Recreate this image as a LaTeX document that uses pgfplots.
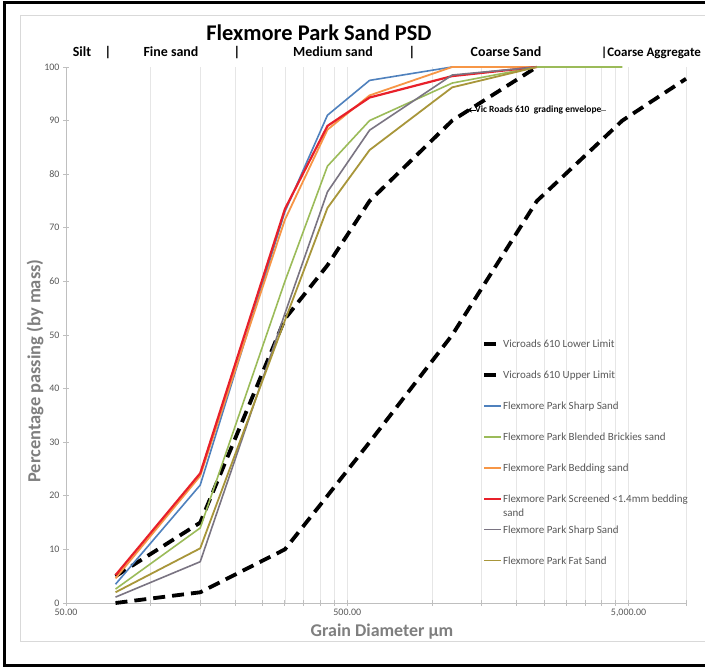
\documentclass[border=0pt]{standalone}
\usepackage{fontspec}
\setmainfont{Carlito}
\usepackage{pgfplots}
\pgfplotsset{compat=1.18}
\usetikzlibrary{arrows.meta}
\definecolor{cblue}{HTML}{4F81BD}
\definecolor{cgreen}{HTML}{9BBB59}
\definecolor{corange}{HTML}{F79646}
\definecolor{cred}{HTML}{E8202A}
\definecolor{cgray}{HTML}{7A7482}
\definecolor{cfat}{HTML}{A8963A}
\definecolor{axgray}{HTML}{BFBFBF}
\definecolor{gridgray}{HTML}{E6E6E6}
\definecolor{labgray}{HTML}{595959}
\definecolor{titgray}{HTML}{7F7F7F}
\begin{document}
\begin{tikzpicture}[x=1bp,y=1bp]
\useasboundingbox (0,0) rectangle (705,668);
\fill[white] (0,0) rectangle (705,668);
\draw[gray!30, line width=0.8bp] (705,27) -- (20,27) -- (20,653) -- (705,653);
\draw[black, line width=3bp] (705,2.5) -- (4.5,2.5) -- (4.5,665.5) -- (705,665.5);
\begin{axis}[
  at={(66bp,65bp)}, anchor=south west, scale only axis,
  width=620bp, height=536bp,
  xmode=log, xmin=50, xmax=8000, ymin=0, ymax=100,
  clip=false,
  axis x line=bottom, axis y line=left,
  axis line style={-, draw=axgray, line width=0.8bp},
  xtick={50,500,5000},
  xticklabels={50.00,500.00,{5,000.00}},
  minor xtick={100,150,200,250,300,350,400,450,1000,1500,2000,2500,3000,3500,4000,4500,8000},
  ytick={0,10,20,30,40,50,60,70,80,90,100},
  xmajorgrids, xminorgrids,
  major grid style={gridgray, line width=0.6bp},
  minor grid style={gridgray, line width=0.6bp},
  tick align=center,
  major tick length=6bp, minor tick length=6bp,
  tick style={axgray, line width=0.8bp},
  /pgf/number format/assume math mode=true,
  tick label style={font=\fontsize{10}{12}\selectfont, text=labgray},
  legend style={at={(0.671,0.4933)}, anchor=north west, draw=none, fill=none,
    inner sep=0pt, row sep=0pt, column sep=0pt,
    font=\fontsize{11}{13}\selectfont, text=labgray,
    cells={anchor=base west},
    nodes={inner sep=0pt, text height=9bp, text depth=21.9bp}},
  legend image code/.code={\draw[#1] (0bp,3.5bp) -- (17bp,3.5bp);},
]
\addplot[black, line width=3.8bp, dash pattern=on 12bp off 7bp] coordinates {
 (75,0) (150,2) (300,10) (425,20) (600,30) (1180,50) (2360,75) (4750,90) (8000,97.8)};
\addlegendentry{Vicroads 610 Lower Limit}
\addplot[black, line width=3.8bp, dash pattern=on 12bp off 7bp] coordinates {
 (75,5) (150,15) (300,53) (425,63) (600,75) (1180,90) (2360,100)};
\addlegendentry{Vicroads 610 Upper Limit}
\addplot[cblue, line width=1.6bp, line join=round] coordinates {
 (75,3.5) (150,22) (300,73) (425,91) (600,97.5) (1180,100) (2360,100)};
\addlegendentry{Flexmore Park Sharp Sand}
\addplot[cgreen, line width=1.6bp, line join=round] coordinates {
 (75,2.6) (150,14) (300,60) (425,81.5) (600,90) (1180,97) (2360,100) (4750,100)};
\addlegendentry{Flexmore Park Blended Brickies sand}
\addplot[corange, line width=1.8bp, line join=round] coordinates {
 (75,4.6) (150,23.7) (300,71.5) (425,88.3) (600,94.7) (1180,100) (2360,100)};
\addlegendentry{Flexmore Park Bedding sand}
\addplot[cred, line width=2.2bp, line join=round] coordinates {
 (75,5.2) (150,24.2) (300,73.5) (425,89) (600,94.3) (1180,98.3) (2360,100)};
\addlegendentry{\vtop{\baselineskip=14.5bp\hbox{Flexmore Park Screened <1.4mm bedding}\hbox{sand}}}
\addplot[cgray, line width=1.6bp, line join=round] coordinates {
 (75,1.1) (150,7.7) (300,54) (425,76.7) (600,88.2) (1180,98.5) (2360,100)};
\addlegendentry{Flexmore Park Sharp Sand}
\addplot[cfat, line width=1.8bp, line join=round] coordinates {
 (75,2) (150,10.2) (300,52.7) (425,73.7) (600,84.5) (1180,96.2) (2360,100)};
\addlegendentry{Flexmore Park Fat Sand}
\end{axis}
\node[anchor=base, font=\bfseries\fontsize{22.5}{26}\selectfont] at (319,627.7) {Flexmore Park Sand PSD};
\begin{scope}[every node/.style={anchor=base, font=\bfseries\fontsize{14}{16}\selectfont}]
\node at (82,611.5) {Silt};
\node at (108,611.5) {|};
\node at (171,611.5) {Fine sand};
\node at (237,611.5) {|};
\node at (333,611.5) {Medium sand};
\node at (412,611.5) {|};
\node at (506,611.5) {Coarse Sand};
\node[anchor=base west, inner sep=0pt, font=\bfseries\fontsize{13}{15}\selectfont] at (601,611.5) {|Coarse Aggregate};
\end{scope}
\node[anchor=base, font=\bfseries\fontsize{18}{20}\selectfont, text=titgray] at (382,31.2) {Grain Diameter µm};
\node[rotate=90, font=\bfseries\fontsize{18.5}{20}\selectfont, text=titgray] at (35,297) {Percentage passing (by mass)};
\node[anchor=base west, inner sep=0pt, font=\bfseries\fontsize{9.5}{11}\selectfont] at (475,555) {Vic Roads 610\ \ grading envelope};
\draw[-{Stealth[length=5bp,width=5bp]}, line width=0.8bp] (476,558) -- (467,558);
\draw[gray, line width=0.8bp] (601,558) -- (606,558);
\end{tikzpicture}
\end{document}
